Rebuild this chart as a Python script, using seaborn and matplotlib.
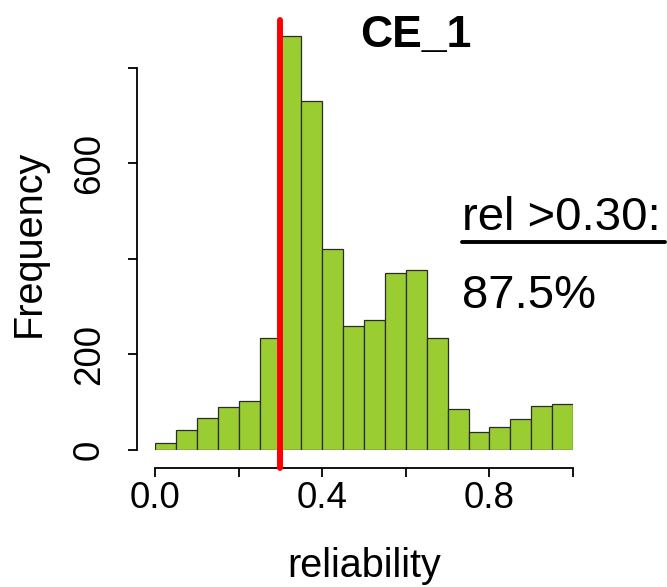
import numpy as np
import matplotlib
matplotlib.use("Agg")
import matplotlib.pyplot as plt
from matplotlib.lines import Line2D
import seaborn as sns

# histogram of reliability values
bin_edges = [0.00, 0.05, 0.10, 0.15, 0.20, 0.25, 0.30, 0.35, 0.40, 0.45, 0.50,
             0.55, 0.60, 0.65, 0.70, 0.75, 0.80, 0.85, 0.90, 0.95, 1.00]
counts = [14, 42, 66, 91, 103, 235, 866, 731, 421, 260,
          272, 371, 377, 234, 85, 38, 49, 65, 92, 96]
cutoff = 0.30
pct_above = "87.5%"
title = "CE_1"

x_ticks = [0.0, 0.2, 0.4, 0.6, 0.8, 1.0]
x_ticklabels = ["0.0", "", "0.4", "", "0.8", ""]
y_ticks = [0, 200, 400, 600, 800]
y_ticklabels = ["0", "200", "", "600", ""]

sns.set_style("white")
plt.rcParams['font.family'] = ['Liberation Sans', 'DejaVu Sans']
plt.rcParams['text.color'] = 'black'

W, H = 667, 587
fig = plt.figure(figsize=(W / 100, H / 100), dpi=100)
ax = fig.add_axes([155 / W, (H - 450) / H, 418 / W, 430 / H])

centers = [(a + b) / 2 for a, b in zip(bin_edges[:-1], bin_edges[1:])]
sns.histplot(x=centers, weights=counts, bins=bin_edges, ax=ax,
             color="#9ACD32", edgecolor="#2b2b2b", linewidth=0.9, alpha=1)

ax.axvline(cutoff, ymin=-18 / 430, ymax=1.0, color="#FF0000", lw=4.3,
           clip_on=False, zorder=5)

ax.set_xlim(0, 1)
ax.set_ylim(0, 900)
for s in ["top", "right"]:
    ax.spines[s].set_visible(False)
ax.spines["left"].set_position(("outward", 13))
ax.spines["bottom"].set_position(("outward", 13))
ax.spines["left"].set_bounds(0, 800)
ax.spines["bottom"].set_bounds(0, 1)
for s in ["left", "bottom"]:
    ax.spines[s].set_linewidth(1.3)
    ax.spines[s].set_color("black")

ax.set_xticks(x_ticks)
ax.set_xticklabels(x_ticklabels)
ax.set_yticks(y_ticks)
ax.set_yticklabels(y_ticklabels, rotation=90, va="center")
ax.tick_params(axis="both", bottom=True, left=True, direction="out",
               length=6.5, width=1.3, color="black",
               labelsize=26.5, labelcolor="black")
ax.tick_params(axis="x", pad=3)
ax.tick_params(axis="y", pad=15)

ax.set_xlabel("")
ax.set_ylabel("")
fig.text(364 / W, 1 - 577 / H, "reliability", fontsize=28.5,
         ha="center", va="baseline", color="black")
fig.text(40 / W, 1 - 243 / H, "Frequency", fontsize=28.5, rotation=90,
         ha="center", va="baseline", rotation_mode="anchor", color="black")

fig.text(416 / W, 1 - 47 / H, title, fontsize=32, fontweight="bold",
         ha="center", va="baseline", color="black")
fig.text(462 / W, 1 - 230 / H, f"rel >{cutoff:.2f}:", fontsize=34,
         ha="left", va="baseline", color="black")
fig.add_artist(Line2D([462 / W, 665 / W], [1 - 242 / H, 1 - 242 / H],
                      transform=fig.transFigure, color="black", lw=2.8))
fig.text(462 / W, 1 - 308 / H, pct_above, fontsize=34,
         ha="left", va="baseline", color="black")

fig.savefig("out.png", dpi=100)
